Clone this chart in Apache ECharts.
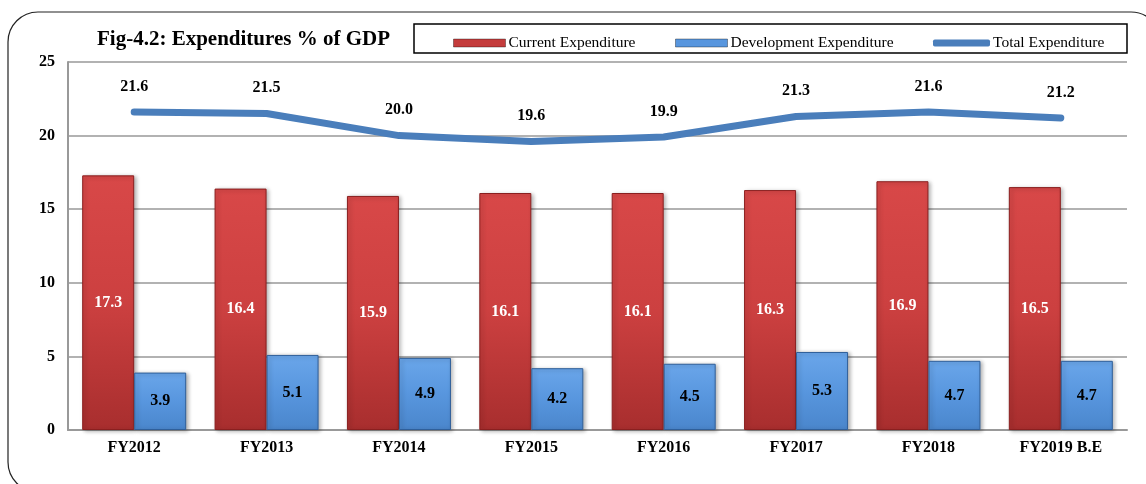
<!DOCTYPE html>
<html>
<head>
<meta charset="utf-8">
<script src="https://cdn.jsdelivr.net/npm/echarts@6/dist/echarts.min.js"></script>
<style>
    html, body { margin: 0; padding: 0; background: #fff; }
    #chart { width: 1146px; height: 484px; }
</style>
</head>
<body>
<div id="chart"></div>
<script>
const categories = ['FY2012', 'FY2013', 'FY2014', 'FY2015', 'FY2016', 'FY2017', 'FY2018', 'FY2019 B.E']
const current_exp = [17.3, 16.4, 15.9, 16.1, 16.1, 16.3, 16.9, 16.5]
const development_exp = [3.9, 5.1, 4.9, 4.2, 4.5, 5.3, 4.7, 4.7]
const total_exp = [21.6, 21.5, 20.0, 19.6, 19.9, 21.3, 21.6, 21.2]

const FONT = '"Liberation Serif", "Times New Roman", serif'

const red_fill = new echarts.graphic.LinearGradient(0, 0, 0, 1, [
    {offset: 0, color: '#d84848'},
    {offset: 0.5, color: '#cc4040'},
    {offset: 1, color: '#a82e2e'}
])
const blue_fill = new echarts.graphic.LinearGradient(0, 0, 0, 1, [
    {offset: 0, color: '#6aa6ea'},
    {offset: 0.5, color: '#5896de'},
    {offset: 1, color: '#4a86cc'}
])

// one legend per item so each can sit where the reference has it
const legendItem = (name, left, icon, color, w, h) => ({
    left: left, top: 30,
    itemWidth: w, itemHeight: h, itemGap: 0,
    textStyle: {fontFamily: FONT, fontSize: 15.5, color: '#000', padding: [0, 0, 0, -2]},
    data: [{name: name, icon: icon, itemStyle: {color: color, borderColor: 'rgba(0,0,0,0.35)', borderWidth: icon === 'rect' ? 1 : 0}}]
})

const chart = echarts.init(document.getElementById('chart'))

let option = {
    animation: false,
    textStyle: {fontFamily: FONT},
    graphic: [
        {
            type: 'rect',
            shape: {x: 8, y: 12, width: 1153, height: 480, r: 30},
            style: {fill: 'none', stroke: '#222', lineWidth: 1.2}
        },
        {
            type: 'text',
            left: 97, top: 29,
            style: {text: 'Fig-4.2: Expenditures % of GDP', font: 'bold 21px ' + FONT, fill: '#000'}
        },
        {
            type: 'rect',
            shape: {x: 414, y: 24, width: 713, height: 29},
            style: {fill: '#fff', stroke: '#000', lineWidth: 1.5},
            z: -1
        }
    ],
    legend: [
        legendItem('Current Expenditure', 448, 'rect', '#c43c3c', 52, 8),
        legendItem('Development Expenditure', 670, 'rect', '#5896de', 52, 8),
        legendItem('Total Expenditure', 928, 'roundRect', '#4a7ebb', 57, 7)
    ],
    grid: {left: 68, right: 19, top: 62, bottom: 54},
    xAxis: {
        type: 'category',
        data: categories,
        axisTick: {show: false},
        axisLine: {lineStyle: {color: '#999', width: 2}},
        axisLabel: {fontFamily: FONT, fontWeight: 'bold', fontSize: 16, color: '#000', margin: 10}
    },
    yAxis: {
        type: 'value',
        min: 0, max: 25, interval: 5,
        axisLine: {show: true, lineStyle: {color: '#999', width: 2}},
        axisTick: {show: false},
        splitLine: {lineStyle: {color: '#999', width: 1.5}},
        axisLabel: {fontFamily: FONT, fontWeight: 'bold', fontSize: 16, color: '#000', margin: 13}
    },
    series: [
        {
            name: 'Current Expenditure',
            type: 'bar',
            data: current_exp,
            barWidth: 52,
            barGap: '0%',
            itemStyle: {color: red_fill, borderColor: '#8a1f1f', borderWidth: 1,
                shadowColor: 'rgba(0,0,0,0.3)', shadowBlur: 4, shadowOffsetX: 2, shadowOffsetY: 1},
            label: {show: true, position: 'inside', formatter: p => p.value.toFixed(1),
                fontFamily: FONT, fontWeight: 'bold', fontSize: 16, color: '#fff'}
        },
        {
            name: 'Development Expenditure',
            type: 'bar',
            data: development_exp,
            barWidth: 52,
            itemStyle: {color: blue_fill, borderColor: '#2f5f9a', borderWidth: 1,
                shadowColor: 'rgba(0,0,0,0.3)', shadowBlur: 4, shadowOffsetX: 2, shadowOffsetY: 1},
            label: {show: true, position: 'inside', formatter: p => p.value.toFixed(1),
                fontFamily: FONT, fontWeight: 'bold', fontSize: 16, color: '#000'}
        },
        {
            name: 'Total Expenditure',
            type: 'line',
            data: total_exp,
            smooth: false,
            symbol: 'circle',
            symbolSize: 1,
            showSymbol: true,
            lineStyle: {color: '#4a7ebb', width: 7, cap: 'round', join: 'round'},
            itemStyle: {color: '#4a7ebb'},
            label: {show: true, position: 'top', distance: 17, formatter: p => p.value.toFixed(1),
                fontFamily: FONT, fontWeight: 'bold', fontSize: 16, color: '#000'},
            z: 5
        }
    ]
}

chart.setOption(option)
</script>
</body>
</html>
